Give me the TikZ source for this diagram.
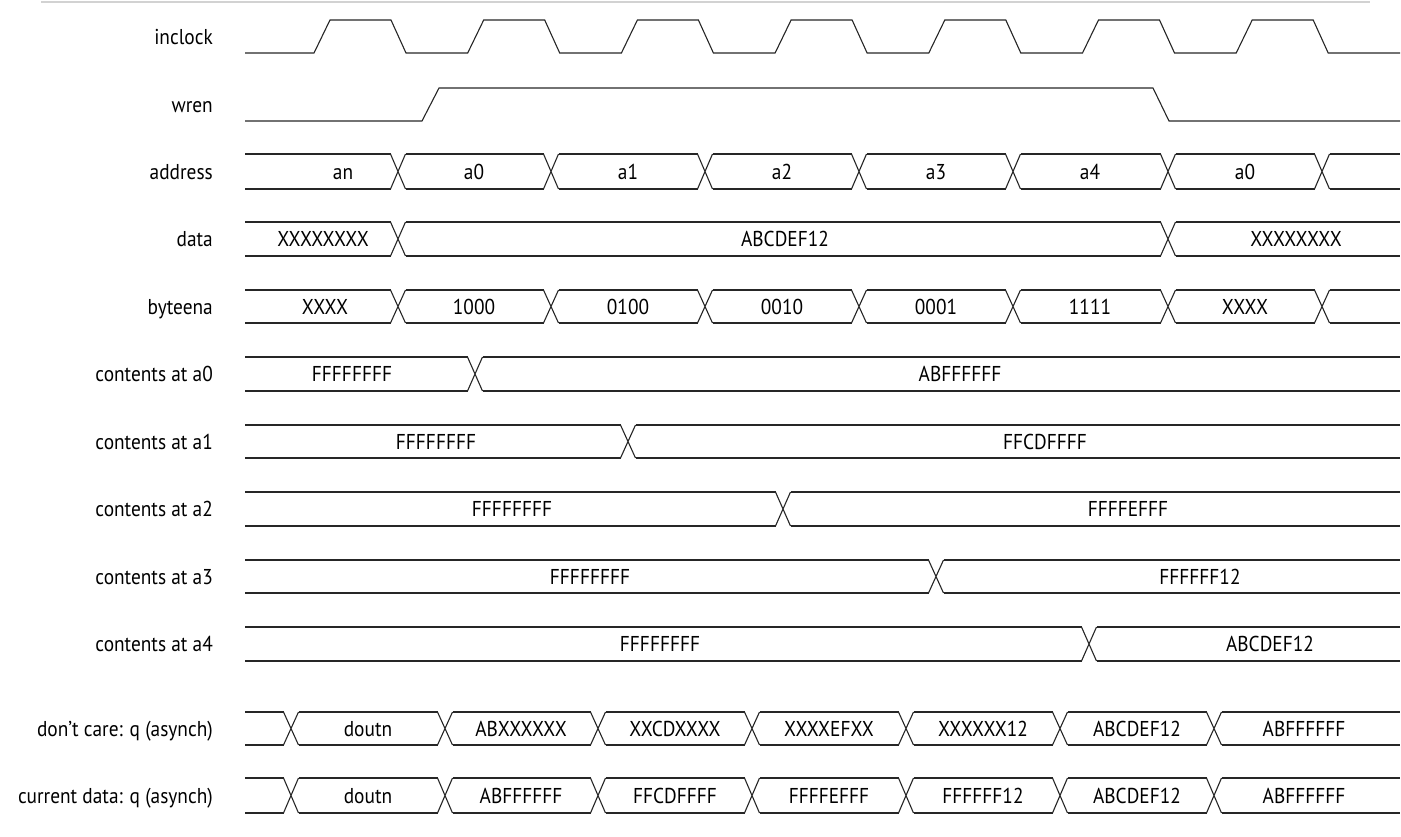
\documentclass[tikz,border=0pt]{standalone}
\usepackage{fontspec}
\setmainfont{PT Sans}[FakeStretch=0.9]
\usetikzlibrary{calc}
\tikzset{
  >=stealth,
  line cap=round,
  line join=round,
  sig/.style={draw=black!85, line width=1.1pt},
  siglabel/.style={anchor=base east, inner sep=0pt, font=\fontsize{21.5}{24}\selectfont},
  busval/.style={anchor=base, inner sep=0pt, font=\fontsize{21.5}{24}\selectfont},
  pagerule/.style={draw=gray!35, line width=1.5pt}
}
% one bus row: top y, bottom y, segments xa/xb/text x/value, row name
\newcommand{\busrow}[4]{%
  \foreach \xa/\xb/\tx/\val in {#3}{
    \pgfmathsetmacro{\la}{\xa==\xs ? \xa : \xa+\hw}
    \pgfmathsetmacro{\rb}{\xb==\xe ? \xb : \xb-\hw}
    \draw[sig] (\la,#1) -- (\rb,#1) (\la,#2) -- (\rb,#2);
    \ifdim\xb pt<\xe pt
      \draw[sig] (\xb-\hw,#1) -- (\xb+\hw,#2) (\xb-\hw,#2) -- (\xb+\hw,#1);
    \fi
    \ifx\val\empty\else
      \node[busval] (#4-\tx) at (\tx,{(#1+#2)/2+7.5}) {\val};
    \fi
  }}

\begin{document}
\begin{tikzpicture}[x=1pt, y=-1pt]
  \def\xs{245}
  \def\xe{1400}
  \def\hw{7.5}
  \useasboundingbox (0,0) rectangle (1401,836);

  \draw[pagerule] (41,2) -- (1370,2);

  % signal names
  \foreach \yc/\name/\txt in {36.5/clk/inclock, 104.5/wren/wren, 171.5/addr/address,
      239/data/data, 306.5/byte/byteena, 374/ca0/contents at a0, 441.5/ca1/contents at a1,
      509/ca2/contents at a2, 576.5/ca3/contents at a3, 644/ca4/contents at a4,
      728.5/qdc/don’t care: q (asynch), 795.5/qcd/current data: q (asynch)}
    \node[siglabel] (lbl-\name) at (213,\yc+7.5) {\txt};

  % clock and write enable
  \draw[sig] (\xs,53) \foreach \i in {0,...,6}{
      -- ({314+153.7*\i},53) -- ({330+153.7*\i},20)
      -- ({391+153.7*\i},20) -- ({406+153.7*\i},53)} -- (\xe,53);
  \draw[sig] (\xs,121) -- (422,121) -- (439,88) -- (1153,88) -- (1169,121) -- (\xe,121);

  % buses
  \busrow{154}{189}{245/398/343/an, 398/551/474/a0, 551/705/628/a1, 705/859/782/a2,
    859/1013/936/a3, 1013/1168/1090/a4, 1168/1322/1245/a0, 1322/1400/1361/{}}{addr}
  \busrow{222}{256}{245/398/323/XXXXXXXX, 398/1168/785/ABCDEF12, 1168/1400/1296/XXXXXXXX}{data}
  \busrow{290}{323}{245/398/325/XXXX, 398/551/474/1000, 551/705/628/0100, 705/859/782/0010,
    859/1013/936/0001, 1013/1168/1090/1111, 1168/1322/1245/XXXX, 1322/1400/1361/{}}{byte}

  % memory contents
  \busrow{357}{391}{245/475/352/FFFFFFFF, 475/1400/960/ABFFFFFF}{ca0}
  \busrow{425}{458}{245/628/436/FFFFFFFF, 628/1400/1045/FFCDFFFF}{ca1}
  \busrow{492}{526}{245/783/512/FFFFFFFF, 783/1400/1128/FFFFEFFF}{ca2}
  \busrow{560}{593}{245/936/590/FFFFFFFF, 936/1400/1200/FFFFFF12}{ca3}
  \busrow{627}{661}{245/1089/660/FFFFFFFF, 1089/1400/1270/ABCDEF12}{ca4}

  % read outputs
  \busrow{712}{745}{245/291/268/{}, 291/445/368/doutn, 445/598/521/ABXXXXXX,
    598/752/675/XXCDXXXX, 752/906/829/XXXXEFXX, 906/1060/983/XXXXXX12,
    1060/1214/1137/ABCDEF12, 1214/1400/1304/ABFFFFFF}{qdc}
  \busrow{778}{813}{245/291/268/{}, 291/445/368/doutn, 445/598/521/ABFFFFFF,
    598/752/675/FFCDFFFF, 752/906/829/FFFFEFFF, 906/1060/983/FFFFFF12,
    1060/1214/1137/ABCDEF12, 1214/1400/1304/ABFFFFFF}{qcd}
\end{tikzpicture}
\end{document}
